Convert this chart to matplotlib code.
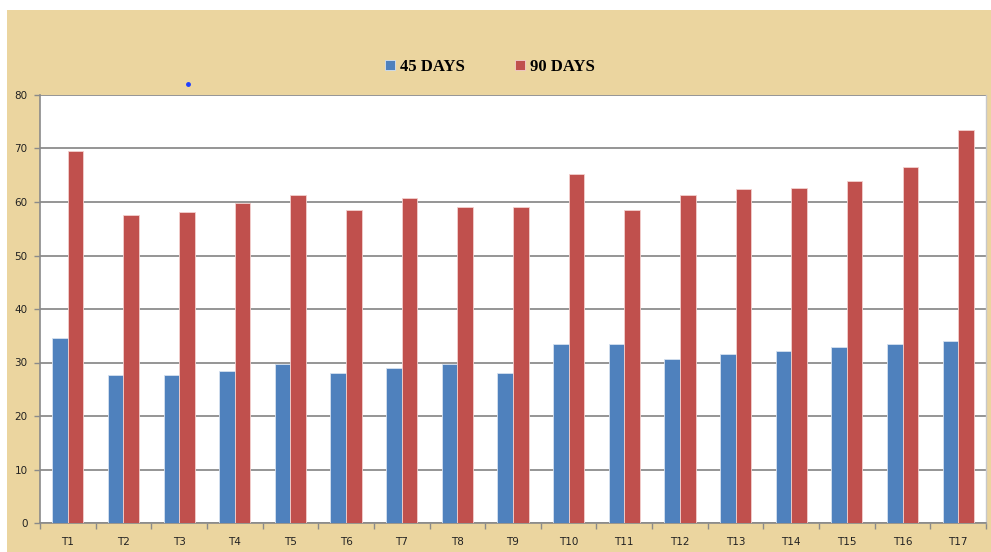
import numpy as np
import matplotlib.pyplot as plt
from matplotlib.patches import Rectangle
from matplotlib.lines import Line2D

# data
treatments = ['T1', 'T2', 'T3', 'T4', 'T5', 'T6', 'T7', 'T8', 'T9',
              'T10', 'T11', 'T12', 'T13', 'T14', 'T15', 'T16', 'T17']
days_45 = [34.5, 27.7, 27.7, 28.4, 29.7, 28.0, 29.0, 29.7, 28.0,
           33.5, 33.5, 30.6, 31.6, 32.2, 32.9, 33.5, 34.1]
days_90 = [69.5, 57.5, 58.2, 59.9, 61.4, 58.5, 60.8, 59.1, 59.1,
           65.3, 58.5, 61.4, 62.4, 62.7, 64.0, 66.6, 73.4]
series_labels = ['45 DAYS', '90 DAYS']
yticks = [0, 10, 20, 30, 40, 50, 60, 70, 80]

W, H = 991, 552
fig = plt.figure(figsize=(W / 100, H / 100), dpi=100)
fig.patch.set_facecolor('white')

# papyrus-like backdrop
fig.patches.append(Rectangle((7 / W, 0), 1 - 7 / W, 1 - 10 / H,
                             transform=fig.transFigure, facecolor='#EBD59F',
                             edgecolor='none', zorder=-5))
fig.lines.append(Line2D([188 / W], [1 - 84 / H], transform=fig.transFigure,
                        marker='o', markersize=2.5, color='#1f3fff',
                        linestyle='none', zorder=-4))

ax = fig.add_axes([40 / W, 1 - 523 / H, (986 - 40) / W, (523 - 95) / H])
ax.set_facecolor('white')

x = np.arange(len(treatments))
w = 0.28
ax.bar(x - w / 2, days_45, w, color='#4F81BD', edgecolor='#d5e1f0',
       linewidth=0.6, label=series_labels[0], zorder=3)
ax.bar(x + w / 2, days_90, w, color='#C0504D', edgecolor='#f3d0ce',
       linewidth=0.6, label=series_labels[1], zorder=3)

ax.set_xlim(-0.5, len(treatments) - 0.5)
ax.set_ylim(0, 80)
ax.set_yticks(yticks)
ax.set_yticklabels([str(v) for v in yticks], fontsize=7.5, color='#222222')
ax.set_xticks(x)
ax.set_xticklabels(treatments, fontsize=7.5, color='#222222')
ax.set_xticks(np.arange(len(treatments) + 1) - 0.5, minor=True)
ax.tick_params(axis='x', which='major', length=0, pad=10)
ax.tick_params(axis='x', which='minor', length=4, color='#8a8a8a', width=1)
ax.tick_params(axis='y', length=4, color='#8a8a8a', width=1, pad=5)

ax.grid(axis='y', color='#8c8c8c', linewidth=1.3, zorder=1)
ax.spines['top'].set_visible(False)
ax.spines['right'].set_color('#c8c8c8')
ax.spines['right'].set_linewidth(1.0)
for side in ['left', 'bottom']:
    ax.spines[side].set_color('#8a8a8a')
    ax.spines[side].set_linewidth(1.2)

leg = fig.legend(loc='center', bbox_to_anchor=(490 / W, 1 - 67 / H),
                 ncol=2, frameon=False, handlelength=0.6, handleheight=0.6,
                 handletextpad=0.3, columnspacing=3.0,
                 prop={'family': 'Liberation Serif', 'weight': 'bold', 'size': 12})

fig.savefig('out.png', dpi=100, facecolor=fig.get_facecolor())
